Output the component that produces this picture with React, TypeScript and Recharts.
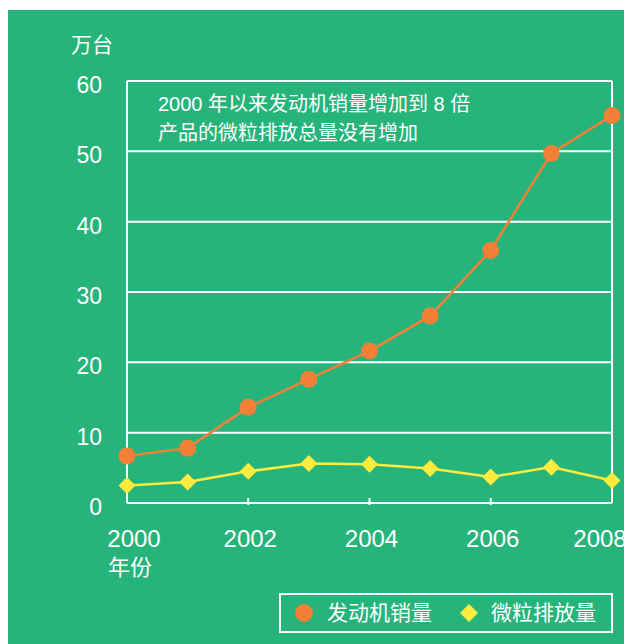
import { LineChart, Line, XAxis, YAxis, CartesianGrid, ReferenceLine, Legend } from 'recharts';

const years = [2000, 2001, 2002, 2003, 2004, 2005, 2006, 2007, 2008];
const engineSales = [6.7, 7.8, 13.6, 17.6, 21.6, 26.6, 35.9, 49.7, 55.1];
const particulate = [2.5, 3.0, 4.5, 5.6, 5.5, 4.9, 3.7, 5.1, 3.2];
const xTicks = [2000, 2002, 2004, 2006, 2008];
const yTicks = [0, 10, 20, 30, 40, 50, 60];

const data = years.map((year, i) => ({ year, sales: engineSales[i], pm: particulate[i] }));

const GREEN = '#26b47b';
const ORANGE = '#f47f36';
const YELLOW = '#fdeb3d';
const FONT = "'Liberation Sans', 'Noto Sans CJK SC', sans-serif";

function XTick(props: any) {
  const { x, y, payload, index } = props;
  const first = index === 0;
  const last = payload.value === 2008;
  const dx = first ? 7 : last ? -12 : 2;
  return (
    <g>
      {!first && !last && <line x1={x} y1={y} x2={x} y2={y - 7} stroke="#fff" strokeWidth={2} />}
      <text x={x + dx} y={y + 42} textAnchor="middle" fill="#fff" fontSize={24} fontFamily={FONT}>
        {payload.value}
      </text>
    </g>
  );
}

function YTick(props: any) {
  const { x, y, payload } = props;
  return (
    <text x={x - 23} y={y + 12} textAnchor="end" fill="#fff" fontSize={23} fontFamily={FONT}>
      {payload.value}
    </text>
  );
}

function Diamond(props: any) {
  const { cx, cy } = props;
  if (cx == null || cy == null) return null;
  const r = 8.5;
  return <polygon points={`${cx},${cy - r} ${cx + r},${cy} ${cx},${cy + r} ${cx - r},${cy}`} fill={YELLOW} />;
}

function LegendBox() {
  return (
    <div style={{ position: 'relative', width: 334, height: 40, border: '2px solid #fff', boxSizing: 'border-box', fontFamily: FONT, color: '#fff', fontSize: 21 }}>
      <div style={{ position: 'absolute', left: 14, top: 9, width: 18, height: 18, borderRadius: '50%', background: ORANGE }} />
      <div style={{ position: 'absolute', left: 46, top: 4, lineHeight: '28px', whiteSpace: 'nowrap' }}>发动机销量</div>
      <svg style={{ position: 'absolute', left: 178, top: 8 }} width={20} height={20}>
        <polygon points="10,1 19,10 10,19 1,10" fill={YELLOW} />
      </svg>
      <div style={{ position: 'absolute', left: 210, top: 4, lineHeight: '28px', whiteSpace: 'nowrap' }}>微粒排放量</div>
    </div>
  );
}

export default function App() {
  return (
    <div style={{ paddingTop: 2 }}>
      <div style={{ position: 'relative', width: 624, height: 634, background: GREEN, fontFamily: FONT }}>
        <LineChart width={624} height={634} data={data} margin={{ top: 71, right: 20, bottom: 111, left: 0 }}>
          <CartesianGrid vertical={false} stroke="#fff" strokeWidth={2} />
          <XAxis
            dataKey="year"
            type="number"
            domain={[2000, 2008]}
            ticks={xTicks}
            height={30}
            tickSize={0}
            tickLine={false}
            axisLine={{ stroke: '#fff', strokeWidth: 2 }}
            tick={<XTick />}
            interval={0}
          />
          <YAxis
            type="number"
            domain={[0, 60]}
            ticks={yTicks}
            width={119}
            tickSize={0}
            tickLine={false}
            axisLine={{ stroke: '#fff', strokeWidth: 2 }}
            tick={<YTick />}
            interval={0}
          />
          <ReferenceLine x={2008} stroke="#fff" strokeWidth={2} />
          <Legend
            layout="horizontal"
            verticalAlign="middle"
            align="center"
            content={() => <LegendBox />}
            wrapperStyle={{ left: 271, top: 583, width: 334, height: 40 }}
          />
          <Line dataKey="pm" name="微粒排放量" stroke={YELLOW} strokeWidth={2.5} dot={<Diamond />} activeDot={false} isAnimationActive={false} />
          <Line dataKey="sales" name="发动机销量" stroke={ORANGE} strokeWidth={2.5} dot={{ r: 8.5, fill: ORANGE, stroke: 'none' }} activeDot={false} isAnimationActive={false} />
        </LineChart>
        <div style={{ position: 'absolute', left: 63, top: 22, fontSize: 21, color: '#fff', lineHeight: '26px', fontFamily: FONT }}>万台</div>
        <div style={{ position: 'absolute', left: 100, top: 545, fontSize: 22, color: '#fff', lineHeight: '26px', fontFamily: FONT }}>年份</div>
        <div style={{ position: 'absolute', left: 150, top: 80, fontSize: 20, color: '#fff', lineHeight: '29px', fontFamily: FONT, whiteSpace: 'nowrap' }}>
          <div>2000 年以来发动机销量增加到 8 倍</div>
          <div>产品的微粒排放总量没有增加</div>
        </div>
      </div>
    </div>
  );
}
